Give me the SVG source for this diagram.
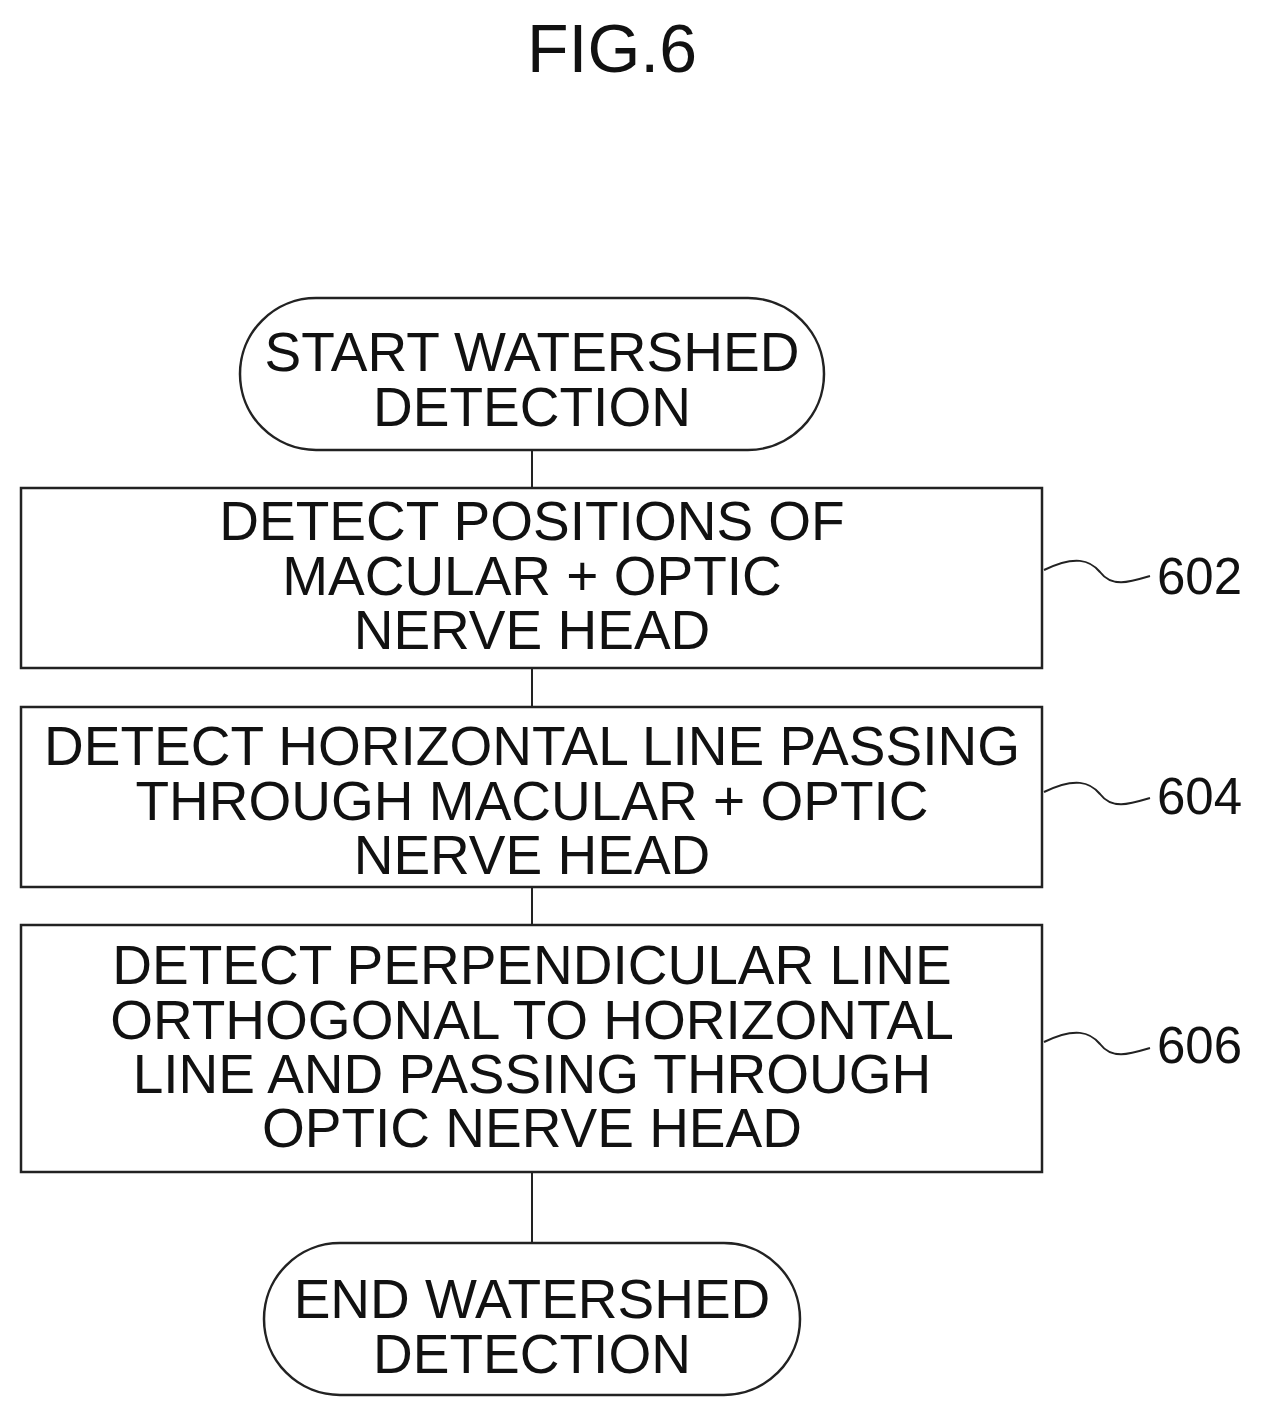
<svg xmlns="http://www.w3.org/2000/svg" width="1267" height="1418" viewBox="0 0 1267 1418">
<style>
.s{fill:#fff;stroke:#222;stroke-width:2.5}
.t{font-family:"Liberation Sans",Arial,sans-serif;font-size:55px;text-anchor:middle;fill:#111}
.n{font-family:"Liberation Sans",Arial,sans-serif;font-size:51px;fill:#111}
.c{fill:none;stroke:#222;stroke-width:2}
</style>
<rect width="1267" height="1418" fill="#fff"/>
<text x="612" y="72" class="t" style="font-size:68px">FIG.6</text>
<g id="connectors">
<line class="c" x1="532" y1="450" x2="532" y2="488"/>
<line class="c" x1="532" y1="668" x2="532" y2="707"/>
<line class="c" x1="532" y1="887" x2="532" y2="925"/>
<line class="c" x1="532" y1="1172" x2="532" y2="1243"/>
<path class="c" d="M1044 570 C1075 555 1090 560 1100 572 C1112 588 1130 582 1150 576"/>
<path class="c" d="M1044 792 C1075 777 1090 782 1100 794 C1112 810 1130 804 1150 798"/>
<path class="c" d="M1044 1042 C1075 1027 1090 1032 1100 1044 C1112 1060 1130 1054 1150 1048"/>
</g>
<g id="start"><rect class="s" x="240" y="298" width="584" height="152" rx="76"/>
<text class="t" x="532" y="371">START WATERSHED</text><text class="t" x="532" y="426">DETECTION</text></g>
<g id="n602"><rect class="s" x="21" y="488" width="1021" height="180"/>
<text class="t" x="532" y="540">DETECT POSITIONS OF</text><text class="t" x="532" y="595">MACULAR + OPTIC</text><text class="t" x="532" y="649">NERVE HEAD</text>
<text class="n" x="1157" y="594">602</text></g>
<g id="n604"><rect class="s" x="21" y="707" width="1021" height="180"/>
<text class="t" x="532" y="765">DETECT HORIZONTAL LINE PASSING</text><text class="t" x="532" y="820">THROUGH MACULAR + OPTIC</text><text class="t" x="532" y="874">NERVE HEAD</text>
<text class="n" x="1157" y="814">604</text></g>
<g id="n606"><rect class="s" x="21" y="925" width="1021" height="247"/>
<text class="t" x="532" y="984">DETECT PERPENDICULAR LINE</text><text class="t" x="532" y="1039">ORTHOGONAL TO HORIZONTAL</text><text class="t" x="532" y="1093">LINE AND PASSING THROUGH</text><text class="t" x="532" y="1147">OPTIC NERVE HEAD</text>
<text class="n" x="1157" y="1063">606</text></g>
<g id="end"><rect class="s" x="264" y="1243" width="536" height="152" rx="76"/>
<text class="t" x="532" y="1318">END WATERSHED</text><text class="t" x="532" y="1373">DETECTION</text></g>
</svg>
